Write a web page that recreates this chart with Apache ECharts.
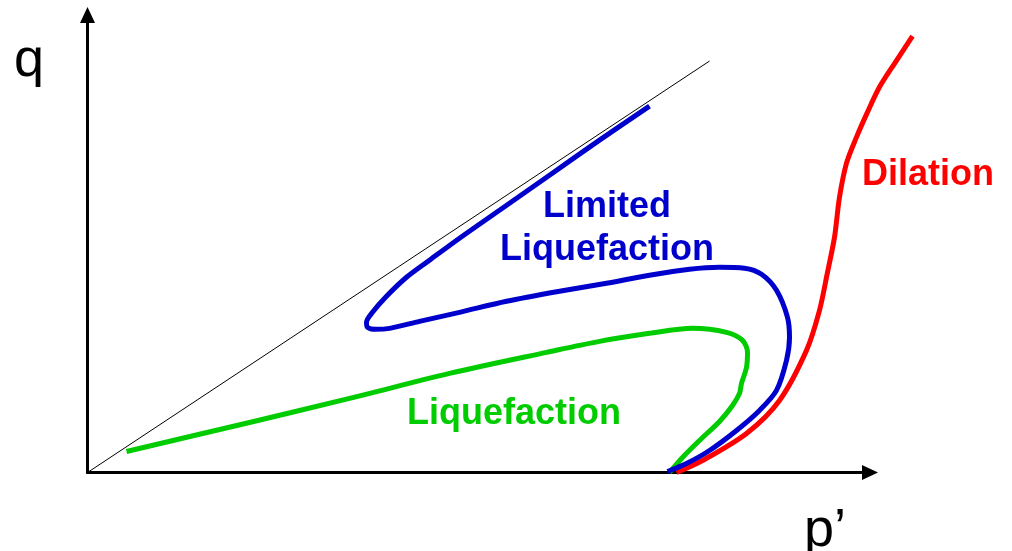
<!DOCTYPE html>
<html>
<head>
<meta charset="utf-8">
<script src="https://cdn.jsdelivr.net/npm/echarts@6/dist/echarts.min.js"></script>
<style>
html,body{margin:0;padding:0;background:#fff;}
#c{width:1012px;height:551px;}
</style>
</head>
<body>
<div id="c"></div>
<script>
// Conceptual stress path diagram: q vs p' (units = arbitrary)
const failureLine = [[0, 0], [622, 411]];
const liquefaction = [
  [39,21],[162,50],[262,74],[362,99],[459,120],[512,131],[562,139],[605,144],
  [639,140],[655,132],[660,120],[659,105],[654,89],[652,79],[645,67],[632,51],
  [612,32],[595,15],[582,0]
];
const limitedLiquefaction = [
  [562,366],[512,332],[462,297],[412,262],[372,234],[342,212],[319,195],[299,176],
  [285,160],[279,150],[280,145],[288,143],[302,144],[332,151],[372,160],[419,171],
  [472,181],[519,189],[562,197],[602,203],[632,205],[657,204],[674,198],[689,182],
  [700,155],[702,135],[699,112],[689,82],[672,62],[649,42],[622,22],[599,9],[580,1]
];
const dilation = [
  [589,0],[615,12],[659,39],[692,72],[719,122],[732,162],[740,200],[747,235],
  [752,275],[759,309],[769,335],[780,360],[792,385],[808,410],[825,436]
];
const labels = {
  yAxis: 'q', xAxis: 'p\u2019',
  dilation: 'Dilation', limited: 'Limited\nLiquefaction', liq: 'Liquefaction'
};

const chart = echarts.init(document.getElementById('c'), null, {renderer: 'canvas'});
const FONT = '"Liberation Sans", Arial, sans-serif';
function curve(data, color, width, z) {
  return {
    type: 'line', data: data, showSymbol: false, symbol: 'none', smooth: 0.3,
    xAxisIndex: 1, yAxisIndex: 1,
    clip: false, z: z || 2, silent: true,
    lineStyle: {color: color, width: width, cap: 'butt', join: 'round'}
  };
}
const hiddenAxis = {show: false};
chart.setOption({
  animation: false,
  backgroundColor: '#ffffff',
  grid: [
    {left: 87.5, right: 142, top: 15, bottom: 78.5},
    {left: 87.5, width: 900, top: 15, bottom: 78.5}
  ],
  xAxis: [{
    type: 'value', min: 0, max: 782, gridIndex: 0,
    axisLine: {show: true, onZero: false, symbol: ['none', 'triangle'], symbolSize: [15, 16],
      lineStyle: {color: '#000', width: 3}},
    axisTick: {show: false}, axisLabel: {show: false}, splitLine: {show: false}
  }, {
    type: 'value', min: 0, max: 900, gridIndex: 1, show: false, splitLine: {show: false}
  }],
  yAxis: [{
    type: 'value', min: 0, max: 457, gridIndex: 0,
    axisLine: {show: true, onZero: false, symbol: ['none', 'triangle'], symbolSize: [15, 16],
      lineStyle: {color: '#000', width: 3}},
    axisTick: {show: false}, axisLabel: {show: false}, splitLine: {show: false}
  }, {
    type: 'value', min: 0, max: 457, gridIndex: 1, show: false, splitLine: {show: false}
  }],
  series: [
    {type: 'line', data: failureLine, showSymbol: false, symbol: 'none', clip: false, silent: true,
      xAxisIndex: 1, yAxisIndex: 1,
      lineStyle: {color: '#000', width: 1}, z: 1},
    curve(liquefaction, '#00cc00', 5, 2),
    curve(dilation, '#ff0000', 5, 3),
    curve(limitedLiquefaction, '#0000cc', 5, 4)
  ],
  graphic: [
    {type: 'text', x: 29, y: 61, style: {text: labels.yAxis, font: '54px ' + FONT, fill: '#000', textAlign: 'center', textVerticalAlign: 'middle'}},
    {type: 'text', x: 804, y: 531, style: {text: labels.xAxis, font: '54px ' + FONT, fill: '#000', textAlign: 'left', textVerticalAlign: 'middle'}},
    {type: 'text', x: 862, y: 175, style: {text: labels.dilation, font: 'bold 36px ' + FONT, fill: '#ff0000', textAlign: 'left', textVerticalAlign: 'middle'}},
    {type: 'text', x: 607, y: 186, style: {text: labels.limited, font: 'bold 36px ' + FONT, fill: '#0000cc', textAlign: 'center', textVerticalAlign: 'top', lineHeight: 43}},
    {type: 'text', x: 407, y: 414, style: {text: labels.liq, font: 'bold 36px ' + FONT, fill: '#00cc00', textAlign: 'left', textVerticalAlign: 'middle'}}
  ]
});
</script>
</body>
</html>
